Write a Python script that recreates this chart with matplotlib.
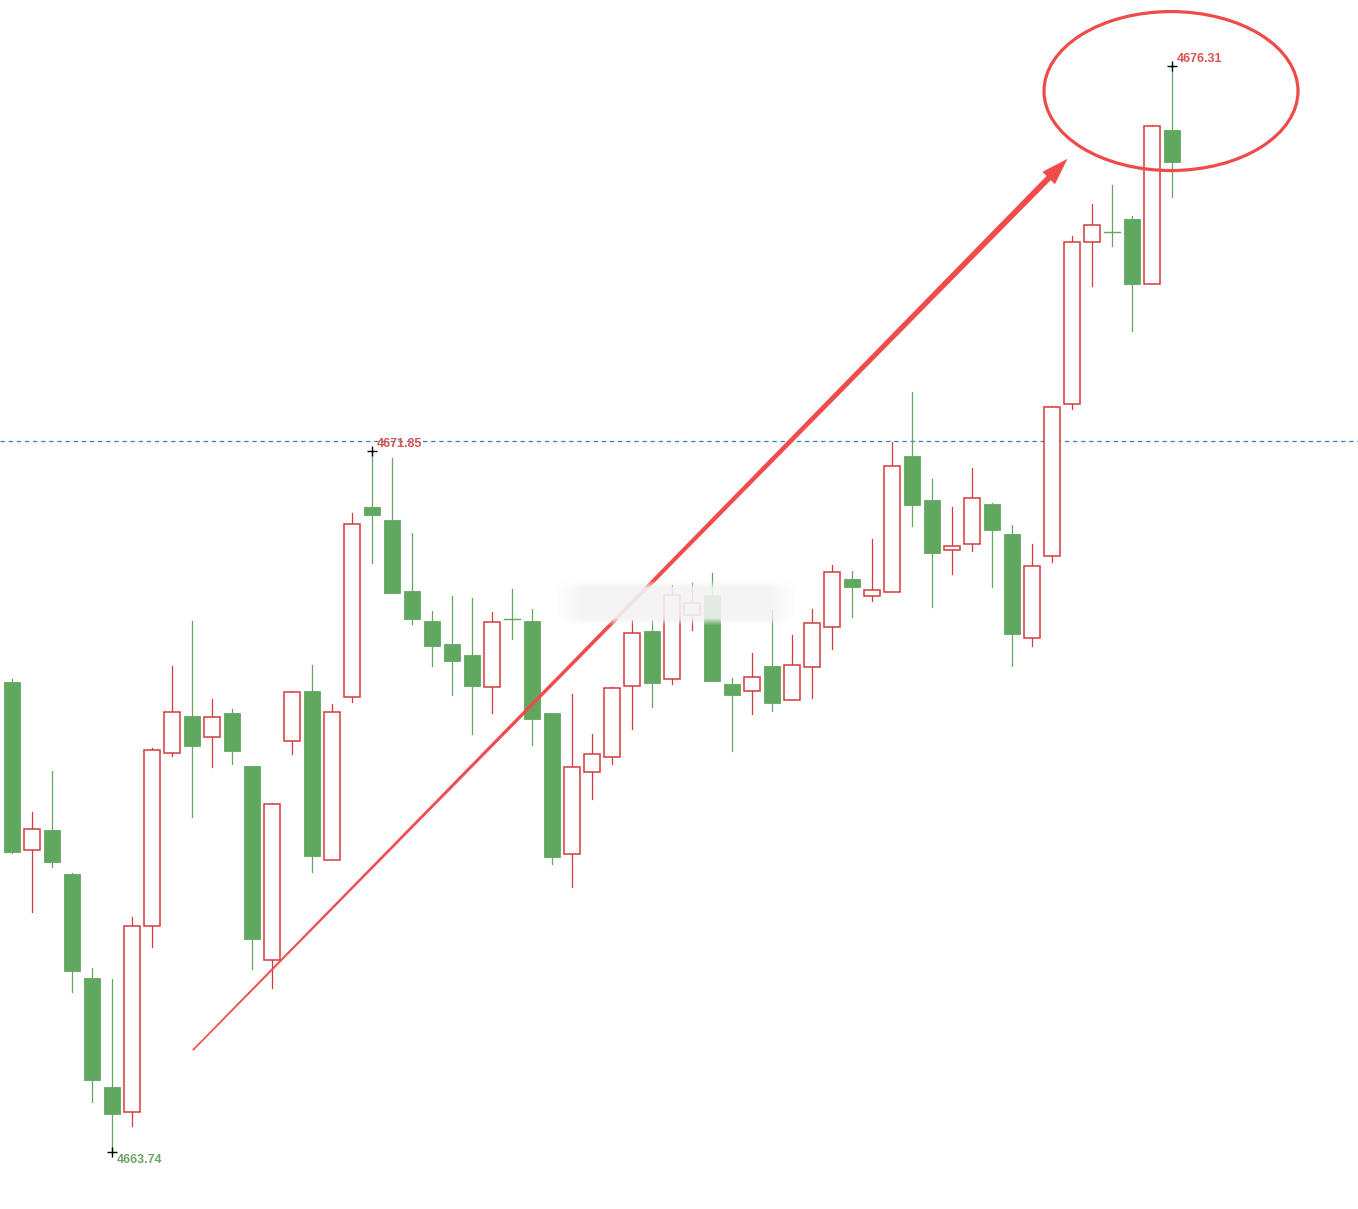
import matplotlib.pyplot as plt
import numpy as np
from matplotlib.patches import Rectangle, Ellipse, Polygon
from matplotlib.transforms import IdentityTransform

# OHLC candles (index 0 = leftmost candle)
opens = [4669.18, 4667.24, 4667.47, 4666.96, 4665.75, 4664.49, 4664.20, 4666.36, 4668.36, 4668.79,
         4668.54, 4668.82, 4668.21, 4665.96, 4668.50, 4669.08, 4667.12, 4669.01, 4671.21, 4671.05,
         4670.23, 4669.89, 4669.62, 4669.49, 4669.12, 4669.91, 4669.89, 4668.82, 4667.19, 4668.14,
         4668.31, 4669.13, 4669.77, 4669.21, 4669.96, 4670.19, 4669.16, 4669.08, 4669.37, 4668.97,
         4669.35, 4669.82, 4670.37, 4670.18, 4670.22, 4671.80, 4671.29, 4670.71, 4670.78, 4671.24,
         4670.89, 4669.69, 4670.64, 4672.40, 4674.27, 4674.39, 4674.54, 4673.79, 4675.57]
highs = [4669.21, 4667.68, 4668.15, 4666.97, 4665.87, 4665.74, 4666.46, 4668.42, 4669.37, 4669.89,
         4668.98, 4668.87, 4668.21, 4667.78, 4669.07, 4669.38, 4668.92, 4671.14, 4671.85, 4671.77,
         4670.90, 4670.00, 4670.18, 4670.15, 4669.99, 4670.26, 4670.03, 4668.82, 4669.04, 4668.58,
         4669.12, 4669.90, 4669.90, 4670.30, 4670.33, 4670.44, 4669.23, 4669.52, 4670.01, 4669.72,
         4670.03, 4670.53, 4670.47, 4670.84, 4671.96, 4672.54, 4671.53, 4671.21, 4671.66, 4671.25,
         4671.00, 4670.78, 4672.37, 4674.34, 4674.71, 4674.93, 4674.57, 4675.63, 4676.31]
lows = [4667.20, 4666.52, 4667.04, 4665.59, 4664.32, 4663.74, 4664.04, 4666.11, 4668.32, 4667.62,
        4668.20, 4668.23, 4665.86, 4665.64, 4668.35, 4666.98, 4667.12, 4668.95, 4670.56, 4670.21,
        4669.85, 4669.37, 4669.03, 4668.58, 4668.82, 4669.68, 4668.45, 4667.07, 4666.81, 4667.83,
        4668.23, 4668.64, 4668.89, 4669.16, 4669.78, 4669.19, 4668.38, 4668.81, 4668.84, 4668.97,
        4669.00, 4669.56, 4669.93, 4670.12, 4670.22, 4670.99, 4670.05, 4670.43, 4670.70, 4670.28,
        4669.37, 4669.60, 4670.57, 4672.34, 4673.76, 4674.23, 4673.24, 4673.79, 4674.79]
closes = [4667.21, 4667.48, 4667.10, 4665.83, 4664.57, 4664.18, 4666.36, 4668.39, 4668.83, 4668.44,
          4668.77, 4668.38, 4666.21, 4667.77, 4669.06, 4667.17, 4668.83, 4671.01, 4671.11, 4670.21,
          4669.91, 4669.60, 4669.42, 4669.13, 4669.88, 4669.91, 4668.75, 4667.15, 4668.20, 4668.35,
          4669.11, 4669.75, 4669.17, 4670.19, 4670.09, 4669.19, 4669.03, 4669.24, 4668.94, 4669.38,
          4669.86, 4670.45, 4670.28, 4670.25, 4671.68, 4671.23, 4670.67, 4670.75, 4671.31, 4670.94,
          4669.74, 4670.52, 4672.36, 4674.27, 4674.47, 4674.39, 4673.79, 4675.62, 4675.20]

# marked extremes: (candle index, price, label colour)
marks = [(18, 4671.85, "#d9534f"), (5, 4663.74, "#6aa864"), (58, 4676.31, "#d9534f")]
ref_level = 4671.97

# hand drawn arrow (start, tip) and circle (centre, width, height), in candle index / price
arrow_start = (9.05, 4664.92)
arrow_tip = (52.75, 4675.23)
circle = (57.95, 4676.02, 12.7, 1.84)

RED = "#d4393d"
GREEN = "#60a760"
MARK = "#ef4b4b"

fig = plt.figure(figsize=(13.58, 12.09), dpi=100)
ax = fig.add_axes([0, 0, 1, 1])
ax.set_xlim(-0.6, 67.3)
ax.set_ylim(4663.08, 4677.074)
ax.axis("off")

ax.axhline(ref_level, color="#2f7fd0", lw=0.9, ls=(0, (3.5, 3)), zorder=1)

w = 0.8
for i, (o, h, l, c) in enumerate(zip(opens, highs, lows, closes)):
    up = c > o
    col = RED if up else GREEN
    top, bot = max(o, c), min(o, c)
    ax.plot([i, i], [h, top], color=col, lw=0.9, zorder=2)
    ax.plot([i, i], [bot, l], color=col, lw=0.9, zorder=2)
    if o == c:
        ax.plot([i - w / 2, i + w / 2], [o, o], color=col, lw=1.0, zorder=3)
    elif up:
        ax.add_patch(Rectangle((i - w / 2, bot), w, top - bot, facecolor="white",
                               edgecolor=col, lw=1.1, zorder=3))
    else:
        ax.add_patch(Rectangle((i - w / 2, bot), w, top - bot, facecolor=col,
                               edgecolor=col, lw=0.6, zorder=3))

for idx, price, tc in marks:
    ax.plot(idx, price, marker="+", color="black", ms=7, mew=1, zorder=5)
    dy = 8 if price < 4665 else -7
    ax.annotate(f"{price:.2f}", (idx, price), xytext=(5, -dy), textcoords="offset pixels",
                color=tc, fontsize=9, fontweight="bold", family="Liberation Sans",
                va="center", ha="left", zorder=6)

fig.canvas.draw()

# tapered arrow, built in pixel space
p0 = ax.transData.transform(arrow_start)
p1 = ax.transData.transform(arrow_tip)
u = (p1 - p0) / np.hypot(*(p1 - p0))
n = np.array([-u[1], u[0]])
head_len, head_w = 26, 17
base = p1 - u * head_len
w0, w1 = 1.2, 5.5
pts = [p0 + n * w0 / 2, base + n * w1 / 2, base + n * head_w / 2, p1,
       base - n * head_w / 2, base - n * w1 / 2, p0 - n * w0 / 2]
ax.add_patch(Polygon(pts, closed=True, facecolor=MARK, edgecolor=MARK, lw=0.3,
                     transform=IdentityTransform(), zorder=5))

cx, cy, cw, ch = circle
ax.add_patch(Ellipse((cx, cy), cw, ch, fill=False, edgecolor=MARK, lw=2.3, zorder=5))

# soft blurred watermark patch on top of everything
x0, y0 = ax.transData.inverted().transform((556, 1209 - 626))
x1, y1 = ax.transData.inverted().transform((795, 1209 - 580))
gx = np.linspace(0, 1, 240)
gy = np.linspace(0, 1, 46)
ex = np.clip(np.minimum(gx, 1 - gx) * 9, 0, 1)
ey = np.clip(np.minimum(gy, 1 - gy) * 6, 0, 1)
img = np.zeros((46, 240, 4))
img[..., :3] = 0.955
img[..., 3] = np.outer(ey, ex) * 0.9
ax.imshow(img, extent=(x0, x1, y0, y1), aspect="auto", zorder=7, interpolation="bilinear")
ax.set_xlim(-0.6, 67.3)
ax.set_ylim(4663.08, 4677.074)

fig.savefig("out.png", dpi=100, facecolor="white")
